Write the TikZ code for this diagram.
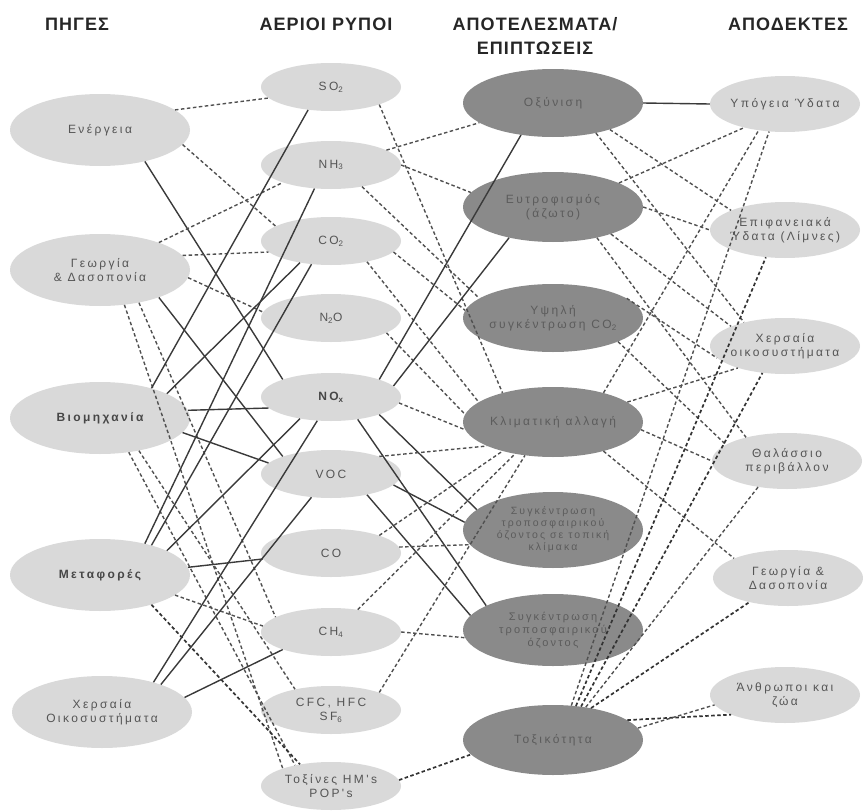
\documentclass[tikz,border=0pt]{standalone}
\usepackage{fontspec}
\setmainfont{Liberation Sans}
\newfontfamily\nodefont{Liberation Sans}[LetterSpace=20]
\newfontfamily\hdrfont{Liberation Sans}[LetterSpace=6]
\usetikzlibrary{shapes.geometric}
\definecolor{lightfill}{HTML}{D9D9D9}
\definecolor{darkfill}{HTML}{8A8A8A}
\definecolor{txt}{HTML}{555555}
\definecolor{solidln}{HTML}{3A3A3A}
\definecolor{dashln}{HTML}{505050}
\tikzset{
  hdr/.style={font=\hdrfont\fontsize{18}{24}\selectfont\bfseries, align=center, text=black!85},
  base/.style={ellipse, inner xsep=-10pt, inner ysep=0pt, align=center, text=txt, font=\nodefont\fontsize{12}{14}\selectfont},
  srcnode/.style={base, fill=lightfill, minimum width=180pt, minimum height=72pt},
  polnode/.style={base, fill=lightfill, minimum width=140pt, minimum height=48pt},
  effnode/.style={base, fill=darkfill, minimum width=180pt, minimum height=68pt, text=black!64},
  recnode/.style={base, fill=lightfill, minimum width=150pt, minimum height=56pt},
  sl/.style={draw=solidln, line width=1.4pt},
  dl/.style={draw=dashln, line width=1.4pt, dash pattern=on 3.5pt off 2.5pt},
  dlb/.style={draw=black!80, line width=1.7pt, dash pattern=on 3.5pt off 2.5pt},
}
\begin{document}
\begin{tikzpicture}[x=1pt,y=-1pt]
\useasboundingbox (0,0) rectangle (863,811);
% headers
\node[hdr] (h1) at (77,24) {ΠΗΓΕΣ};
\node[hdr] (h2) at (326,24) {ΑΕΡΙΟΙ ΡΥΠΟΙ};
\node[hdr] (h3) at (535,36) {ΑΠΟΤΕΛΕΣΜΑΤΑ/\\ΕΠΙΠΤΩΣΕΙΣ};
\node[hdr] (h4) at (788,24) {ΑΠΟΔΕΚΤΕΣ};
% sources
\node[srcnode] (E) at (100,130) {Ενέργεια};
\node[srcnode] (G) at (100,270) {Γεωργία\\\& Δασοπονία};
\node[srcnode, text=black!72] (B) at (100,418) {\bfseries Βιομηχανία};
\node[srcnode, text=black!72] (M) at (100,575) {\bfseries Μεταφορές};
\node[srcnode] (X) at (102,712) {Χερσαία\\Οικοσυστήματα};
% pollutants
\node[polnode] (SO2) at (331,87) {SO\textsubscript{2}};
\node[polnode] (NH3) at (331,165) {NH\textsubscript{3}};
\node[polnode] (CO2) at (331,241) {CO\textsubscript{2}};
\node[polnode] (N2O) at (331,318) {N\textsubscript{2}O};
\node[polnode, text=black!72] (NOx) at (331,397) {\bfseries NO\textsubscript{x}};
\node[polnode] (VOC) at (331,474) {VOC};
\node[polnode] (CO) at (331,553) {CO};
\node[polnode] (CH4) at (331,632) {CH\textsubscript{4}};
\node[polnode] (CFC) at (331,710) {CFC, HFC\\SF\textsubscript{6}};
\node[polnode] (T) at (331,786) {Τοξίνες HM's\\POP's};
% effects
\node[effnode] (O) at (553,103) {Οξύνιση};
\node[effnode, minimum height=70pt] (EU) at (553,207) {Ευτροφισμός\\(άζωτο)};
\node[effnode] (Y) at (553,318) {Υψηλή\\συγκέντρωση CO\textsubscript{2}};
\node[effnode, minimum height=70pt] (K) at (553,422) {Κλιματική αλλαγή};
\node[effnode, minimum height=76pt, font=\nodefont\fontsize{10.5}{12}\selectfont] (ST) at (553,530) {Συγκέντρωση\\τροποσφαιρικού\\όζοντος σε τοπική\\κλίμακα};
\node[effnode, minimum height=72pt, font=\nodefont\fontsize{11}{13}\selectfont] (SO) at (553,630) {Συγκέντρωση\\τροποσφαιρικού\\όζοντος};
\node[effnode, minimum height=70pt] (TX) at (553,740) {Τοξικότητα};
% receptors
\node[recnode] (U) at (785,104) {Υπόγεια Ύδατα};
\node[recnode] (EP) at (785,230) {Επιφανειακά\\Ύδατα (Λίμνες)};
\node[recnode] (XE) at (785,346) {Χερσαία\\οικοσυστήματα};
\node[recnode] (TH) at (787,461) {Θαλάσσιο\\περιβάλλον};
\node[recnode] (GD) at (788,578) {Γεωργία \&\\Δασοπονία};
\node[recnode] (A) at (785,695) {Άνθρωποι και\\ζώα};
% sources -> pollutants
\draw[dl] (E.15) -- (SO2.190);
\draw[dl] (E.-10) -- (CO2.165);
\draw[sl] (E.-35) -- (NOx.160);
\draw[dl] (G.25) -- (NH3.200);
\draw[dl] (G.10) -- (CO2.190);
\draw[dl] (G.-5) -- (N2O.175);
\draw[sl] (G.-25) -- (VOC.160);
\draw[dl] (G.-40) -- (CH4.165);
\draw[dl] (G.-55) -- (T.160);
\draw[sl] (B.30) -- (SO2.225);
\draw[sl] (B.20) -- (CO2.215);
\draw[sl] (B.5) -- (NOx.190);
\draw[sl] (B.-10) -- (VOC.170);
\draw[dl] (B.-40) -- (CFC.150);
\draw[dl] (B.-50) -- (T.150);
\draw[sl] (M.35) -- (NH3.235);
\draw[sl] (M.30) -- (CO2.230);
\draw[sl] (M.20) -- (NOx.215);
\draw[sl] (M.5) -- (CO.185);
\draw[dl] (M.-15) -- (CH4.175);
\draw[dlb] (M.-30) -- (T.145);
\draw[sl] (X.30) -- (NOx.240);
\draw[sl] (X.25) -- (VOC.230);
\draw[sl] (X.10) -- (CH4.200);
% pollutants -> effects
\draw[dl] (SO2.-20) -- (K.150);
\draw[dl] (NH3.15) -- (O.195);
\draw[dl] (NH3.0) -- (EU.170);
\draw[dl] (NH3.-35) -- (Y.165);
\draw[dl] (CO2.-10) -- (Y.175);
\draw[dl] (CO2.-30) -- (K.165);
\draw[dl] (N2O.-15) -- (K.175);
\draw[sl] (NOx.20) -- (O.225);
\draw[sl] (NOx.10) -- (EU.215);
\draw[dl] (NOx.-5) -- (K.185);
\draw[sl] (NOx.-20) -- (ST.165);
\draw[sl] (NOx.-40) -- (SO.160);
\draw[sl] (VOC.-10) -- (ST.175);
\draw[sl] (VOC.-30) -- (SO.170);
\draw[dl] (VOC.20) -- (K.200);
\draw[dl] (CO.20) -- (K.210);
\draw[dl] (CO.5) -- (ST.190);
\draw[dl] (CH4.40) -- (K.220);
\draw[dl] (CH4.0) -- (SO.185);
\draw[dl] (CFC.20) -- (K.230);
\draw[dlb] (T.5) -- (TX.190);
% effects -> receptors
\draw[sl] (O.0) -- (U.180);
\draw[dl] (O.-25) -- (EP.160);
\draw[dl] (O.-35) -- (XE.150);
\draw[dl] (EU.20) -- (U.210);
\draw[dl] (EU.0) -- (EP.180);
\draw[dl] (EU.-25) -- (XE.160);
\draw[dl] (EU.-35) -- (TH.150);
\draw[dl] (Y.15) -- (XE.190);
\draw[dl] (Y.-20) -- (TH.165);
\draw[dl] (K.30) -- (U.225);
\draw[dl] (K.15) -- (XE.205);
\draw[dl] (K.-5) -- (TH.180);
\draw[dl] (K.-30) -- (GD.160);
\draw[dl] (TX.62) -- (U.240);
\draw[dlb] (TX.56) -- (EP.235);
\draw[dlb] (TX.50) -- (XE.230);
\draw[dl] (TX.45) -- (TH.222);
\draw[dlb] (TX.40) -- (GD.212);
\draw[dlb] (TX.15) -- (A.200);
\draw[dl] (TX.8) -- (A.188);
\end{tikzpicture}
\end{document}
